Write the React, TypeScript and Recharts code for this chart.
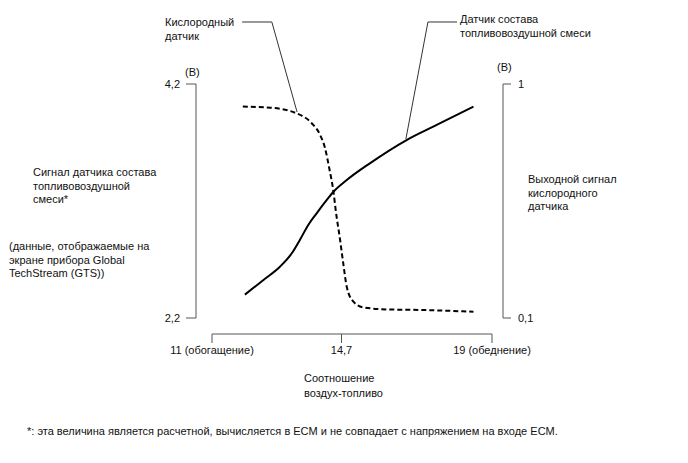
import React from 'react';
import { ComposedChart, Line, XAxis, YAxis, ReferenceLine } from 'recharts';

// Axis ticks and labels
const xTicks = [11, 14.7, 19];
const xTickLabels = ['11 (обогащение)', '14,7', '19 (обеднение)'];
const leftTicks = [2.2, 4.2];
const leftTickLabels = ['2,2', '4,2'];
const rightTicks = [0.1, 1];
const rightTickLabels = ['0,1', '1'];

// Air-fuel ratio sensor signal (left axis, V)
const afRatio = [11.94, 12.47, 12.94, 13.28, 13.51, 13.75, 13.99, 14.28, 14.47, 14.85, 15.51, 16.56, 17.42, 18.47];
const afVoltage = [2.4, 2.525, 2.638, 2.753, 2.867, 2.995, 3.095, 3.209, 3.279, 3.379, 3.522, 3.721, 3.85, 4.006];

// Oxygen sensor output (right axis, V)
const o2Ratio = [11.88, 12.66, 13.42, 13.85, 14.09, 14.23, 14.35, 14.47, 14.54, 14.66, 14.75, 14.85, 15.04, 15.32, 15.99, 16.94, 18.47];
const o2Voltage = [0.913, 0.909, 0.887, 0.849, 0.804, 0.753, 0.676, 0.586, 0.509, 0.4, 0.31, 0.22, 0.163, 0.141, 0.133, 0.131, 0.124];

// Leader lines for callouts (air-fuel ratio, left-axis volts)
const o2Leader = [
  { x: 13.43, y: 3.961 },
  { x: 12.71, y: 4.73 },
  { x: 11.86, y: 4.73 },
];
const afLeader = [
  { x: 16.54, y: 3.73 },
  { x: 17.17, y: 4.73 },
  { x: 18.0, y: 4.73 },
];

const afData = afRatio.map((x, i) => ({ x, v: afVoltage[i] }));
const o2Data = o2Ratio.map((x, i) => ({ x, v: o2Voltage[i] }));

const FONT = 'Arial, "Liberation Sans", sans-serif';
const AXIS = '#555';
const TICK_STYLE = { fontSize: 11, fill: '#111' };
const MARGIN = { top: 84, left: 156, right: 145, bottom: 99 };
const X_DOMAIN: [number, number] = [11, 19];
const L_DOMAIN: [number, number] = [2.2, 4.2];
const R_DOMAIN: [number, number] = [0.1, 1];
const PAD_DOMAIN: [number, number] = [0, 1];
const fmtX = (v: number) => xTickLabels[xTicks.indexOf(v)];
const fmtL = (v: number) => leftTickLabels[leftTicks.indexOf(v)];
const fmtR = (v: number) => rightTickLabels[rightTicks.indexOf(v)];
const SEG1 = [o2Leader[0], o2Leader[1]];
const SEG2 = [o2Leader[1], o2Leader[2]];
const SEG3 = [afLeader[0], afLeader[1]];
const SEG4 = [afLeader[1], afLeader[2]];

const txt = (left: number, top: number, lines: string[], lh = 14): React.ReactNode => (
  <div
    style={{
      position: 'absolute',
      left,
      top,
      fontSize: 11,
      lineHeight: `${lh}px`,
      color: '#111',
      whiteSpace: 'nowrap',
    }}
  >
    {lines.map((l, i) => (
      <div key={i}>{l}</div>
    ))}
  </div>
);

export default function App() {
  return (
    <div style={{ position: 'absolute', left: 0, top: 0, width: 688, height: 463, fontFamily: FONT, background: '#fff' }}>
      <ComposedChart width={688} height={463} margin={MARGIN}>
        <XAxis xAxisId="aPadX" type="number" domain={PAD_DOMAIN} height={16} axisLine={false} tickLine={false} tick={false} />
        <XAxis
          xAxisId="xMain"
          dataKey="x"
          type="number"
          domain={X_DOMAIN}
          allowDataOverflow
          ticks={xTicks}
          interval={0}
          height={30}
          tickSize={9}
          tickMargin={3}
          stroke={AXIS}
          tick={TICK_STYLE}
          tickFormatter={fmtX}
        />
        <YAxis yAxisId="aPadL" orientation="left" type="number" domain={PAD_DOMAIN} width={16} axisLine={false} tickLine={false} tick={false} />
        <YAxis
          yAxisId="yLeft"
          orientation="left"
          type="number"
          domain={L_DOMAIN}
          allowDataOverflow
          ticks={leftTicks}
          interval={0}
          width={40}
          tickSize={10}
          tickMargin={6}
          stroke={AXIS}
          tick={TICK_STYLE}
          tickFormatter={fmtL}
        />
        <YAxis yAxisId="aPadR" orientation="right" type="number" domain={PAD_DOMAIN} width={11} axisLine={false} tickLine={false} tick={false} />
        <YAxis
          yAxisId="yRight"
          orientation="right"
          type="number"
          domain={R_DOMAIN}
          allowDataOverflow
          ticks={rightTicks}
          interval={0}
          width={40}
          tickSize={8}
          tickMargin={7}
          stroke={AXIS}
          tick={TICK_STYLE}
          tickFormatter={fmtR}
        />
        <Line
          xAxisId="xMain"
          yAxisId="yLeft"
          data={afData}
          dataKey="v"
          type="monotone"
          stroke="#000"
          strokeWidth={2}
          dot={false}
          activeDot={false}
          isAnimationActive={false}
        />
        <Line
          xAxisId="xMain"
          yAxisId="yRight"
          data={o2Data}
          dataKey="v"
          type="monotone"
          stroke="#000"
          strokeWidth={2}
          strokeDasharray="5 3"
          dot={false}
          activeDot={false}
          isAnimationActive={false}
        />
        <ReferenceLine xAxisId="xMain" yAxisId="yLeft" segment={SEG1} ifOverflow="visible" stroke="#333" strokeWidth={1} />
        <ReferenceLine xAxisId="xMain" yAxisId="yLeft" segment={SEG2} ifOverflow="visible" stroke="#333" strokeWidth={1} />
        <ReferenceLine xAxisId="xMain" yAxisId="yLeft" segment={SEG3} ifOverflow="visible" stroke="#333" strokeWidth={1} />
        <ReferenceLine xAxisId="xMain" yAxisId="yLeft" segment={SEG4} ifOverflow="visible" stroke="#333" strokeWidth={1} />
      </ComposedChart>
      {txt(165, 15, ['Кислородный', 'датчик'])}
      {txt(460, 12, ['Датчик состава', 'топливовоздушной смеси'])}
      {txt(185, 65, ['(В)'])}
      {txt(497, 60, ['(В)'])}
      {txt(33, 166, ['Сигнал датчика состава', 'топливовоздушной', 'смеси*'], 13.5)}
      {txt(9, 240, ['(данные, отображаемые на', 'экране прибора Global', 'TechStream (GTS))'], 13.5)}
      {txt(528, 173, ['Выходной сигнал', 'кислородного', 'датчика'], 13.5)}
      {txt(304, 371, ['Соотношение', 'воздух-топливо'], 15)}
      {txt(27, 424, ['*: эта величина является расчетной, вычисляется в ECM и не совпадает с напряжением на входе ECM.'])}
    </div>
  );
}
